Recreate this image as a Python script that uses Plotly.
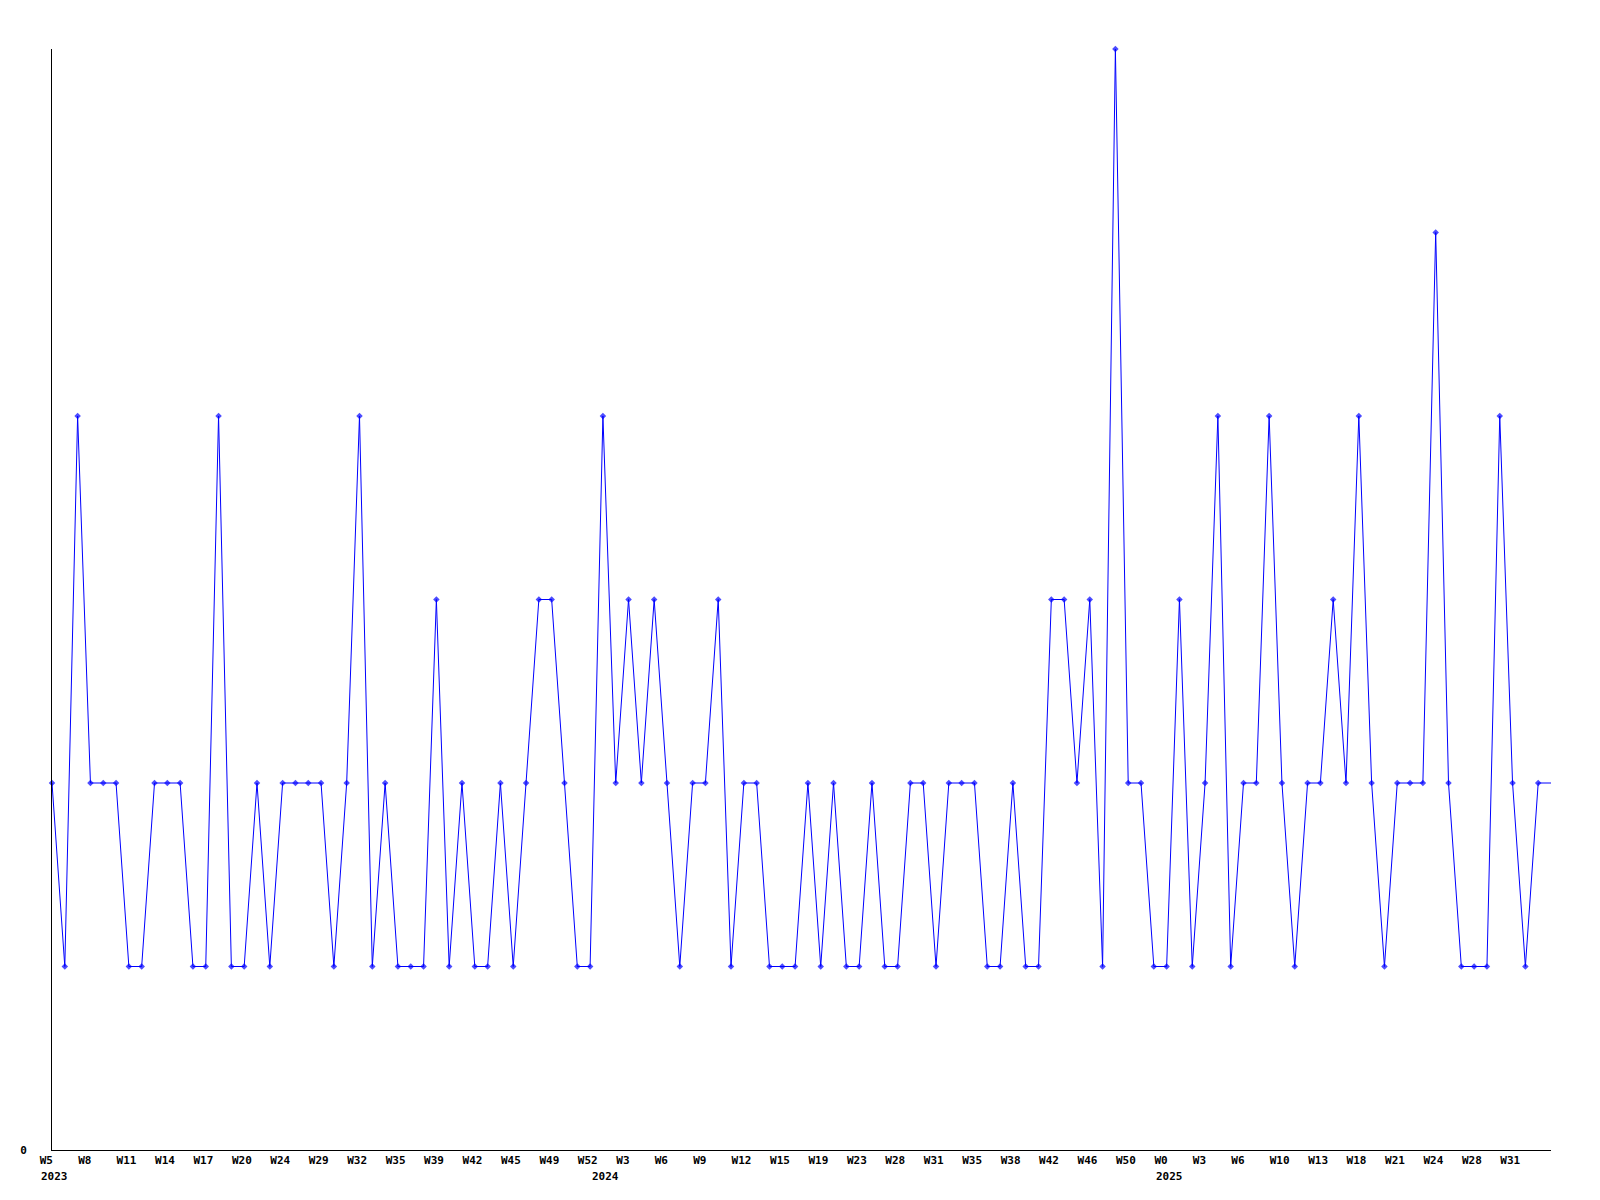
import plotly.graph_objects as go

# Weekly counts (one value per point, left to right)
values = [
    2, 1, 4, 2, 2, 2, 1, 1, 2, 2, 2, 1, 1, 4, 1, 1, 2, 1, 2, 2,
    2, 2, 1, 2, 4, 1, 2, 1, 1, 1, 3, 1, 2, 1, 1, 2, 1, 2, 3, 3,
    2, 1, 1,
    4, 2, 3, 2, 3, 2, 1, 2, 2, 3, 1, 2, 2, 1, 1, 1, 2, 1, 2, 1,
    1, 2, 1, 1, 2, 2, 1, 2, 2, 2, 1, 1, 2, 1, 1, 3, 3, 2, 3, 1,
    6, 2, 2, 1, 1, 3, 1, 2, 4, 1, 2, 2, 4, 2, 1, 2, 2, 3, 2, 4,
    2, 1, 2, 2, 2, 5, 2, 1, 1, 1, 4, 2, 1, 2, 2,
]

# Week tick labels, one every third point
week_ticks = [
    "W5", "W8", "W11", "W14", "W17", "W20", "W24", "W29", "W32", "W35",
    "W39", "W42", "W45", "W49", "W52", "W3", "W6", "W9", "W12", "W15",
    "W19", "W23", "W28", "W31", "W35", "W38", "W42", "W46", "W50", "W0",
    "W3", "W6", "W10", "W13", "W18", "W21", "W24", "W28", "W31",
]
tick_step = 3

# Year labels and the point index where each year starts
years = ["2023", "2024", "2025"]
year_start_index = [0, 43, 87]

n = len(values)
xs = list(range(n))
marker_sizes = [5] * (n - 1) + [0]  # last (partial) week has no marker

NB = "\u00a0"
def pad(s, w=4):
    return s + NB * (w - len(s))

tickvals = [i * tick_step for i in range(len(week_ticks))]
ticktext = [pad(t) for t in week_ticks]

FONT = "DejaVu Sans Mono"

fig = go.Figure()
fig.add_trace(go.Scatter(
    x=xs, y=values, mode="lines+markers",
    line=dict(color="#0000ff", width=1),
    marker=dict(symbol="diamond", size=marker_sizes, color="#0000ff",
                line=dict(width=0)),
    cliponaxis=False, showlegend=False, hoverinfo="x+y",
))

for label, idx in zip(years, year_start_index):
    fig.add_annotation(
        x=idx, y=0, xref="x", yref="y", text=label, showarrow=False,
        xanchor="left", yanchor="middle", xshift=-13, yshift=-26,
        font=dict(family=FONT, size=11, color="black", weight="bold"),
    )

fig.update_layout(
    width=1600, height=1200,
    margin=dict(l=42, r=57, t=41, b=58),
    paper_bgcolor="white", plot_bgcolor="white",
    font=dict(family=FONT, size=11, color="black"),
    showlegend=False,
)
fig.update_xaxes(
    range=[0, n - 1], tickmode="array", tickvals=tickvals, ticktext=ticktext,
    showgrid=False, zeroline=False, showline=True, linecolor="black",
    linewidth=1, ticks="", ticklabelshift=1,
    tickfont=dict(family=FONT, size=11, color="black", weight="bold"),
)
fig.update_yaxes(
    range=[0, 6], tickmode="array", tickvals=[0], ticktext=["0"],
    showgrid=False, zeroline=False, showline=True, linecolor="black",
    linewidth=1, ticks="", ticklabelstandoff=22,
    tickfont=dict(family=FONT, size=11, color="black", weight="bold"),
)

fig.write_html("out.html")
